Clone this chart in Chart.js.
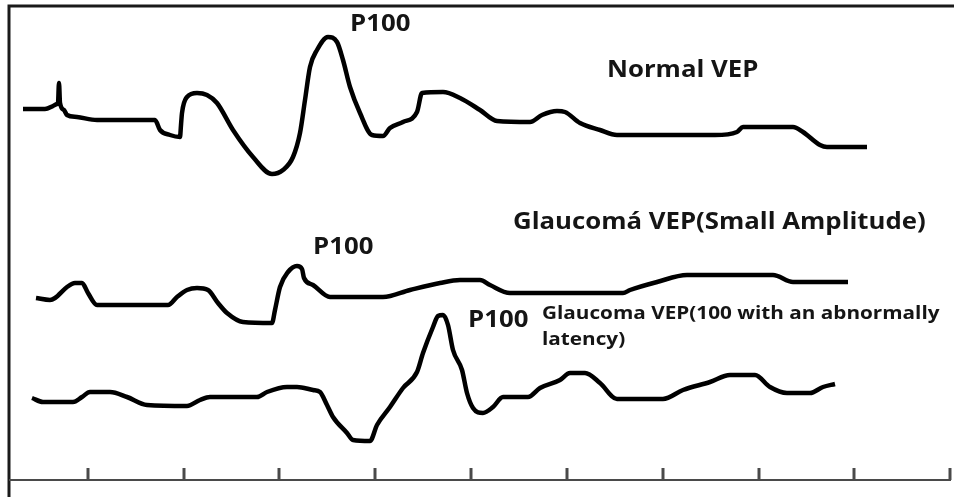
<!DOCTYPE html>
<html lang="en">
<head>
  <meta charset="UTF-8" />
  <title>VEP traces</title>
  <script src="https://cdn.jsdelivr.net/npm/chart.js"></script>
  <style>
    body {
      margin: 0;
      background: #fff;
    }
    #wrap {
      width: 954px;
      height: 497px;
    }
  </style>
</head>
<body>
  <div id="wrap"><canvas id="vep" width="954" height="497"></canvas></div>

  <script>
    // values (x = time units, y = deflection, drawn downward)
    const normalX = [23, 45, 53, 57, 58, 59, 60, 64, 67, 77, 97, 155, 160, 170, 180, 181, 182, 187, 197, 207, 217, 233, 253, 272, 283, 293, 300, 305, 310, 317, 328, 337, 343, 350, 360, 372, 383, 390, 403, 417, 422, 443, 460, 480, 497, 530, 542, 557, 565, 580, 600, 617, 715, 737, 743, 793, 803, 820, 827, 867];
    const normalY = [109, 109, 106, 104, 103, 83, 103, 110, 115, 117, 120, 120, 130, 135, 137, 125, 113, 97, 93, 95, 103, 130, 157, 174, 170, 157, 133, 100, 67, 50, 37, 42, 60, 87, 113, 135, 136, 128, 122, 112, 93, 92, 98, 110, 121, 122, 115, 111, 112, 123, 130, 135, 135, 132, 127, 127, 132, 145, 147, 147];

    const smallX = [36, 50, 55, 67, 75, 82, 88, 97, 168, 177, 187, 197, 208, 218, 227, 243, 272, 275, 280, 288, 297, 302, 304, 313, 330, 383, 410, 440, 460, 480, 490, 510, 623, 630, 657, 687, 773, 793, 848];
    const smallY = [298, 300, 298, 287, 283, 283, 293, 305, 305, 297, 290, 288, 290, 303, 313, 322, 323, 310, 287, 272, 266, 269, 278, 285, 297, 297, 290, 283, 280, 280, 285, 293, 293, 290, 282, 275, 275, 282, 282];

    const latencyX = [32, 43, 73, 82, 90, 110, 127, 147, 187, 200, 210, 257, 267, 287, 297, 313, 320, 327, 333, 347, 353, 370, 377, 390, 403, 417, 423, 433, 438, 443, 448, 453, 462, 467, 473, 483, 493, 503, 528, 540, 560, 570, 585, 600, 617, 663, 683, 710, 730, 755, 770, 787, 810, 823, 835];
    const latencyY = [398, 402, 402, 397, 392, 392, 397, 405, 406, 400, 397, 397, 392, 387, 387, 390, 392, 405, 417, 433, 440, 441, 425, 407, 388, 372, 353, 327, 316, 315, 325, 350, 370, 393, 408, 413, 407, 397, 397, 388, 380, 373, 373, 383, 399, 399, 390, 382, 375, 375, 387, 393, 393, 387, 384];

    const tickValues = [88, 184, 279, 375, 471, 567, 663, 759, 854, 950];

    const labels = [
      { text: 'P100', x: 350, y: 24, weight: 'bold', size: 23 },
      { text: 'Normal VEP', x: 607, y: 70, weight: 'bold', size: 23 },
      { text: 'Glaucomá VEP(Small Amplitude)', x: 513, y: 222, weight: 'bold', size: 23 },
      { text: 'P100', x: 313, y: 247, weight: 'bold', size: 23 },
      { text: 'P100', x: 468, y: 320, weight: 'bold', size: 23 },
      { text: 'Glaucoma VEP(100 with an abnormally', x: 542, y: 314, weight: 'bold', size: 18.5 },
      { text: 'latency)', x: 542, y: 340, weight: 'bold', size: 18.5 }
    ];

    const toPoints = (xs, ys) => xs.map((x, i) => ({ x: x, y: ys[i] }));

    // frame, bottom axis with upward ticks, and the text labels
    const framePlugin = {
      id: 'frame',
      afterDatasetsDraw(chart) {
        const ctx = chart.ctx;
        const xs = chart.scales.x;
        const ys = chart.scales.y;
        ctx.save();
        ctx.lineCap = 'butt';

        // outer frame (top + left)
        ctx.strokeStyle = '#1a1a1a';
        ctx.lineWidth = 3;
        ctx.beginPath();
        ctx.moveTo(xs.getPixelForValue(954), ys.getPixelForValue(6));
        ctx.lineTo(xs.getPixelForValue(9), ys.getPixelForValue(6));
        ctx.lineTo(xs.getPixelForValue(9), ys.getPixelForValue(497));
        ctx.stroke();

        // time axis
        ctx.strokeStyle = '#4a4a4a';
        ctx.lineWidth = 2;
        ctx.beginPath();
        ctx.moveTo(xs.getPixelForValue(9), ys.getPixelForValue(480));
        ctx.lineTo(xs.getPixelForValue(951), ys.getPixelForValue(480));
        ctx.stroke();
        ctx.lineWidth = 3;
        tickValues.forEach(t => {
          ctx.beginPath();
          ctx.moveTo(xs.getPixelForValue(t), ys.getPixelForValue(480));
          ctx.lineTo(xs.getPixelForValue(t), ys.getPixelForValue(468));
          ctx.stroke();
        });

        // the source figure's lettering is a little stretched sideways
        ctx.fillStyle = '#151515';
        ctx.textAlign = 'left';
        ctx.textBaseline = 'middle';
        labels.forEach(l => {
          ctx.save();
          ctx.font = l.weight + ' ' + l.size + 'px "Open Sans", sans-serif';
          ctx.translate(xs.getPixelForValue(l.x), ys.getPixelForValue(l.y));
          ctx.scale(1.12, 1);
          ctx.fillText(l.text, 0, 0);
          ctx.restore();
        });
        ctx.restore();
      }
    };

    const traceStyle = {
      borderColor: '#000',
      borderWidth: 4.5,
      pointRadius: 0,
      fill: false,
      cubicInterpolationMode: 'monotone'
    };

    new Chart(document.getElementById('vep'), {
      type: 'line',
      data: {
        datasets: [
          Object.assign({ label: 'Normal VEP', data: toPoints(normalX, normalY) }, traceStyle),
          Object.assign({ label: 'Glaucoma VEP (small amplitude)', data: toPoints(smallX, smallY) }, traceStyle),
          Object.assign({ label: 'Glaucoma VEP (abnormal latency)', data: toPoints(latencyX, latencyY) }, traceStyle)
        ]
      },
      options: {
        responsive: false,
        animation: false,
        layout: { padding: 0 },
        plugins: { legend: { display: false }, tooltip: { enabled: false } },
        scales: {
          x: { type: 'linear', min: 0, max: 954, display: false },
          y: { type: 'linear', min: 0, max: 497, reverse: true, display: false }
        }
      },
      plugins: [framePlugin]
    });
  </script>
</body>
</html>
